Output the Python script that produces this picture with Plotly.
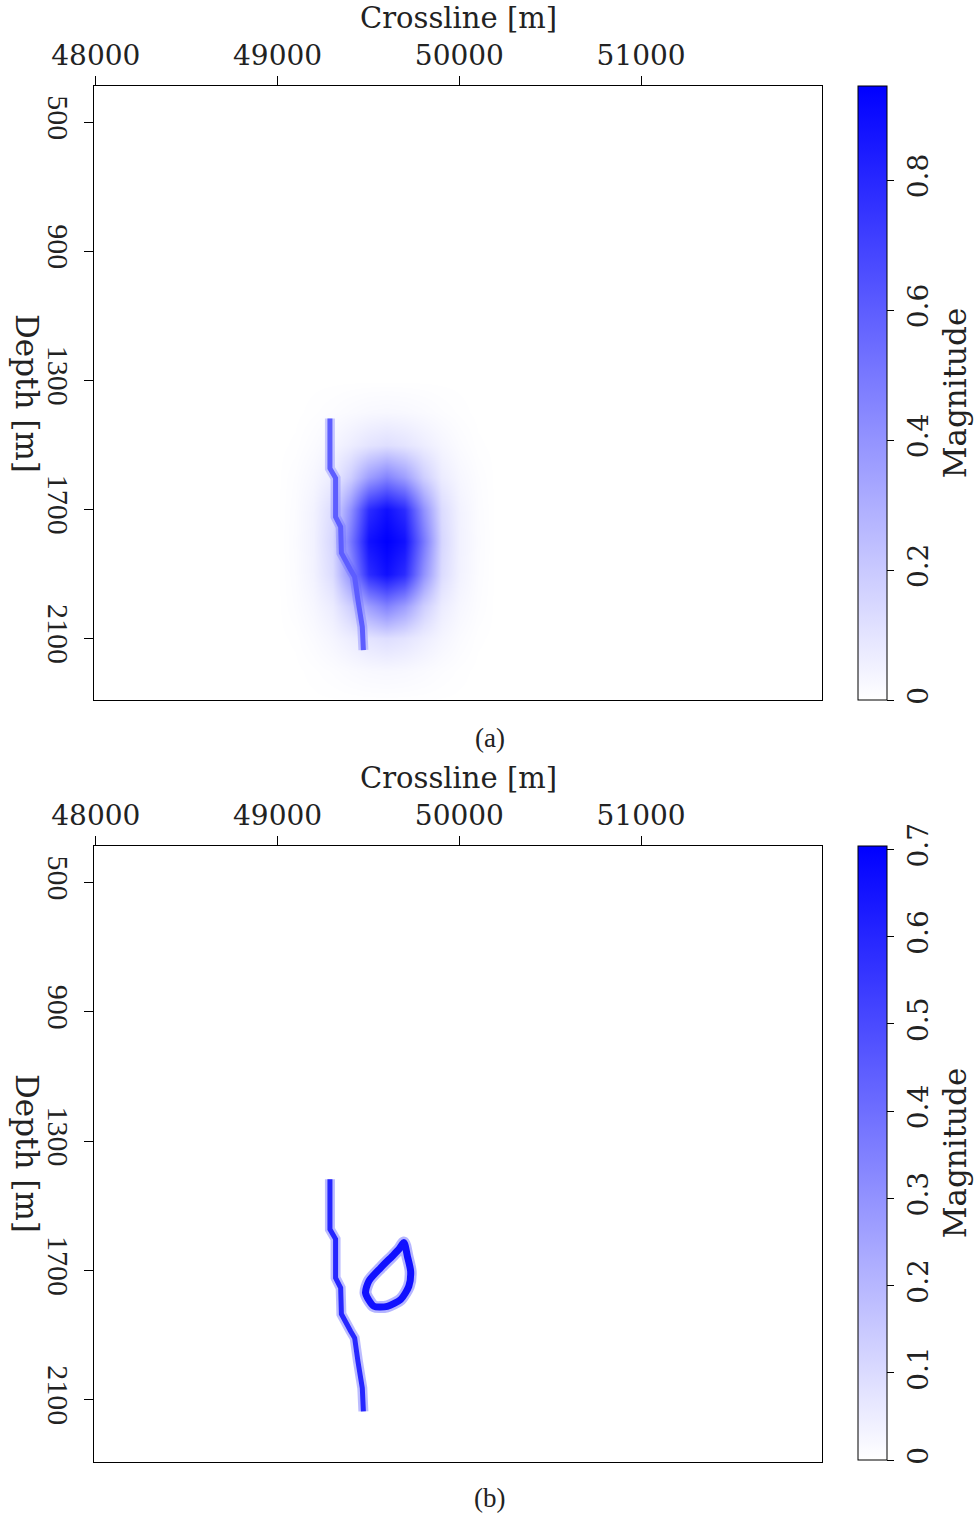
import plotly.graph_objects as go
from plotly.colors import sample_colorscale

# ---------------- data ----------------
# coarse grid of the smooth anomaly in panel (a)
blob_x = [49000, 49100, 49200, 49300, 49400, 49500, 49600, 49700, 49800, 49900, 50000, 50100, 50200]
blob_depth = [1300, 1400, 1500, 1600, 1700, 1800, 1900, 2000, 2100, 2200, 2300]
blob_z = [
    [0, 0,     0,     0,     0,     0,     0,     0,     0,     0,     0,     0,     0],
    [0, 0,     0.004, 0.010, 0.018, 0.025, 0.028, 0.025, 0.018, 0.010, 0.004, 0,     0],
    [0, 0.003, 0.015, 0.035, 0.065, 0.100, 0.120, 0.100, 0.065, 0.035, 0.015, 0.003, 0],
    [0, 0.010, 0.030, 0.070, 0.180, 0.360, 0.460, 0.360, 0.180, 0.070, 0.030, 0.010, 0],
    [0, 0.013, 0.046, 0.130, 0.405, 0.780, 0.885, 0.780, 0.405, 0.130, 0.046, 0.013, 0],
    [0, 0.015, 0.050, 0.150, 0.500, 0.880, 0.945, 0.880, 0.500, 0.150, 0.050, 0.015, 0],
    [0, 0.013, 0.046, 0.130, 0.405, 0.780, 0.885, 0.780, 0.405, 0.130, 0.046, 0.013, 0],
    [0, 0.010, 0.030, 0.070, 0.180, 0.360, 0.460, 0.360, 0.180, 0.070, 0.030, 0.010, 0],
    [0, 0.003, 0.015, 0.035, 0.065, 0.100, 0.120, 0.100, 0.065, 0.035, 0.015, 0.003, 0],
    [0, 0,     0.004, 0.010, 0.018, 0.025, 0.028, 0.025, 0.018, 0.010, 0.004, 0,     0],
    [0, 0,     0,     0,     0,     0,     0,     0,     0,     0,     0,     0,     0],
]

# fault trace (same in both panels)
fault_x = [49288, 49288, 49319, 49319, 49347, 49351, 49402, 49424, 49442, 49466, 49472]
fault_depth = [1418, 1573, 1603, 1723, 1754, 1835, 1888, 1909, 1981, 2064, 2136]
fault_mag = 0.6

# ring in panel (b)
ring_x = [49695, 49714, 49732, 49722, 49677, 49604, 49530, 49484, 49502, 49567, 49631, 49667, 49695]
ring_depth = [1614, 1656, 1703, 1749, 1790, 1811, 1811, 1770, 1733, 1692, 1656, 1635, 1614]
ring_mag = 0.66

cmax_a = 0.945
cmax_b = 0.704
cb_ticks_a = [0, 0.2, 0.4, 0.6, 0.8]
cb_ticks_b = [0, 0.1, 0.2, 0.3, 0.4, 0.5, 0.6, 0.7]
x_ticks = [48000, 49000, 50000, 51000]
y_ticks = [500, 900, 1300, 1700, 2100]

# ---------------- styling ----------------
W, H = 974, 1515
cscale = [[0, "rgb(255,255,255)"], [1, "rgb(0,0,255)"]]
SERIF = "DejaVu Serif"
NARROW = "Liberation Serif"


def col(v, vmax):
    return sample_colorscale(cscale, [min(v / vmax, 1.0)])[0]


def px_x(p):
    return p / W


def px_y(p):
    return 1 - p / H


fig = go.Figure()

# panel (a)
fig.add_trace(go.Heatmap(x=blob_x, y=blob_depth, z=blob_z, zsmooth="best",
                         coloraxis="coloraxis", xaxis="x", yaxis="y",
                         hoverinfo="skip"))
for w, op in [(10, 0.3), (5, 1.0)]:
    fig.add_trace(go.Scatter(x=fault_x, y=fault_depth, mode="lines",
                             line=dict(color=col(fault_mag, cmax_a), width=w),
                             opacity=op, xaxis="x", yaxis="y",
                             showlegend=False, hoverinfo="skip"))

# panel (b)
for w, op in [(10, 0.3), (5, 1.0)]:
    fig.add_trace(go.Scatter(x=fault_x, y=fault_depth, mode="lines",
                             line=dict(color=col(fault_mag, cmax_b), width=w),
                             opacity=op, xaxis="x2", yaxis="y2",
                             showlegend=False, hoverinfo="skip"))
    fig.add_trace(go.Scatter(x=ring_x, y=ring_depth, mode="lines+markers",
                             line=dict(color=col(ring_mag, cmax_b), width=w + 2,
                                       shape="spline", smoothing=0.7),
                             marker=dict(color=[ring_mag] * len(ring_x), coloraxis="coloraxis2",
                                         size=w, line=dict(width=0)),
                             opacity=op, xaxis="x2", yaxis="y2",
                             showlegend=False, hoverinfo="skip"))

xdom = [px_x(94), px_x(822)]
ydom_a = [px_y(700), px_y(86)]
ydom_b = [px_y(1461.5), px_y(846)]
xr = [47990, 51995]
yr = [2291, 387.4]

axis_common = dict(showline=True, linecolor="black", linewidth=1, mirror=True,
                   ticks="outside", ticklen=9, tickcolor="black", tickwidth=1,
                   showgrid=False, zeroline=False, automargin=False)

xax = dict(axis_common, domain=xdom, range=xr, side="top",
           tickvals=x_ticks, ticktext=[str(v) for v in x_ticks],
           tickfont=dict(family=SERIF, size=28, color="#222"))
yax = dict(axis_common, range=yr, tickvals=y_ticks, ticktext=[str(v) for v in y_ticks],
           tickangle=90, tickfont=dict(family=NARROW, size=30, color="#222"))


def cbar(top_px, ticks):
    return dict(x=px_x(858), xanchor="left", xpad=0,
                y=px_y(top_px), yanchor="top", ypad=0,
                len=614 / H, lenmode="fraction",
                thickness=29, thicknessmode="pixels",
                outlinewidth=1, outlinecolor="black",
                ticks="outside", ticklen=7, tickcolor="black",
                tickvals=ticks, ticktext=[("%g" % t) for t in ticks],
                tickangle=-90, tickfont=dict(family=SERIF, size=28, color="#222"),
                title=dict(text="Magnitude", side="right",
                           font=dict(family=SERIF, size=31, color="#222")))


fig.update_layout(
    width=W, height=H, autosize=False,
    margin=dict(l=0, r=0, t=0, b=0, pad=0, autoexpand=False),
    paper_bgcolor="white", plot_bgcolor="white",
    showlegend=False,
    xaxis=dict(xax, anchor="y"),
    yaxis=dict(yax, domain=ydom_a, anchor="x"),
    xaxis2=dict(xax, anchor="y2"),
    yaxis2=dict(yax, domain=ydom_b, anchor="x2"),
    coloraxis=dict(colorscale=cscale, cmin=0, cmax=cmax_a, colorbar=cbar(86, cb_ticks_a)),
    coloraxis2=dict(colorscale=cscale, cmin=0, cmax=cmax_b, colorbar=cbar(846, cb_ticks_b)),
)

annos = []
for off, cap in [(0, "(a)"), (760, "(b)")]:
    annos.append(dict(text="Crossline [m]", x=px_x(458), y=px_y(18 + off), xref="paper", yref="paper",
                      xanchor="center", yanchor="middle",
                      showarrow=False, font=dict(family=SERIF, size=29, color="#222")))
    annos.append(dict(text="Depth [m]", x=px_x(27), y=px_y(393 + off), xref="paper", yref="paper",
                      xanchor="center", yanchor="middle",
                      showarrow=False, textangle=90, font=dict(family=SERIF, size=31, color="#222")))
    annos.append(dict(text=cap, x=px_x(490), y=px_y(738 + off), xref="paper", yref="paper",
                      xanchor="center", yanchor="middle",
                      showarrow=False, font=dict(family=NARROW, size=27, color="#222")))
fig.update_layout(annotations=annos)

fig.write_html("out.html")
